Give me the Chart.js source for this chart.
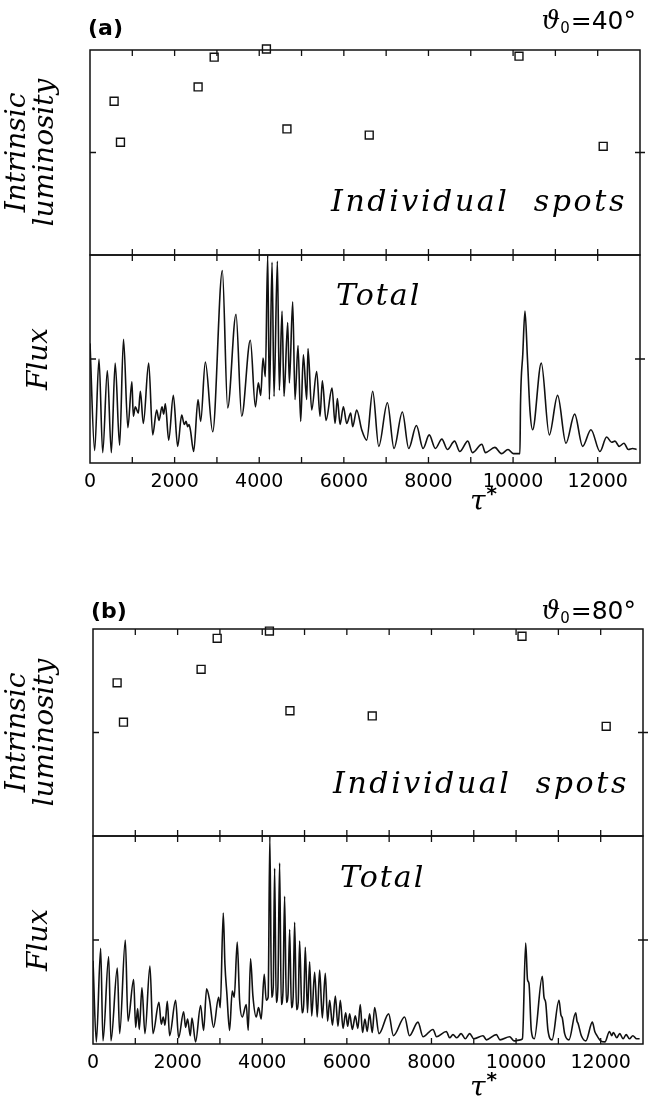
<!DOCTYPE html>
<html>
<head>
<meta charset="utf-8">
<script src="https://cdn.jsdelivr.net/npm/chart.js@4.4.1/dist/chart.umd.min.js"></script>
<style>
html, body { margin: 0; padding: 0; background: #fff; }
#page { position: relative; width: 658px; height: 1100px; overflow: hidden; }
canvas { position: absolute; left: 0; }
</style>
</head>
<body>
<div id="page">
  <canvas id="a1" width="658" height="262" style="top:0px"></canvas>
  <canvas id="a2" width="658" height="300" style="top:250px"></canvas>
  <canvas id="b1" width="658" height="283" style="top:560px"></canvas>
  <canvas id="b2" width="658" height="269" style="top:831px"></canvas>
</div>
<script>
// tick labels of the tau* axis
const tauLabels = [0, 2000, 4000, 6000, 8000, 10000, 12000];

// individual spots: time of appearance and intrinsic luminosity
const spotTau  = [570, 720, 2555, 2935, 4170, 4655, 6600, 10140, 12130];
const spotLumA = [1.50, 1.10, 1.64, 1.93, 2.01, 1.23, 1.17, 1.94, 1.06];
const spotLumB = [1.48, 1.10, 1.61, 1.91, 1.98, 1.21, 1.16, 1.93, 1.06];

// total flux, theta0 = 40 deg
const fluxTauA = [
  0, 110, 213, 300, 410, 504, 595, 700, 792, 895, 990, 1024, 1072, 1143, 1190, 1261,
  1387, 1482, 1576, 1631, 1702, 1741, 1781, 1860, 1970, 2072, 2167, 2230, 2270, 2309,
  2340, 2372, 2451, 2553, 2616, 2726, 2900, 3128, 3254, 3451, 3585, 3790, 3909, 3979,
  4035, 4090, 4145, 4200, 4240, 4303, 4350, 4429, 4476, 4539, 4586, 4673, 4712, 4791,
  4846, 4917, 4980, 5043, 5122, 5153, 5240, 5358, 5437, 5492, 5579, 5721, 5792, 5847,
  5910, 5989, 6068, 6162, 6209, 6303, 6422, 6540, 6682, 6825, 7029, 7186, 7383, 7533,
  7715, 7872, 8018, 8164, 8317, 8448, 8617, 8739, 8930, 9039, 9262, 9346, 9570, 9725,
  9880, 10005, 10162, 10175, 10230, 10281, 10340, 10400, 10462, 10667, 10856, 11053,
  11250, 11455, 11644, 11841, 12054, 12211, 12329, 12408, 12510, 12621, 12723, 12826, 12920
];
const fluxA = [
  1.15, 0.12, 1.00, 0.10, 0.89, 0.10, 0.96, 0.17, 1.19, 0.34, 0.78, 0.45, 0.54, 0.48, 0.69, 0.38,
  0.96, 0.27, 0.51, 0.41, 0.54, 0.47, 0.57, 0.22, 0.65, 0.16, 0.46, 0.37, 0.40, 0.35,
  0.37, 0.32, 0.11, 0.61, 0.40, 0.97, 0.30, 1.85, 0.53, 1.43, 0.45, 1.18, 0.54, 0.77,
  0.65, 1.01, 0.83, 2.00, 0.61, 1.93, 0.64, 1.94, 0.70, 1.46, 0.64, 1.35, 0.77, 1.55,
  0.61, 1.13, 0.40, 1.04, 0.61, 1.10, 0.51, 0.88, 0.45, 0.79, 0.41, 0.72, 0.38, 0.62,
  0.37, 0.54, 0.38, 0.48, 0.35, 0.51, 0.32, 0.22, 0.69, 0.16, 0.58, 0.14, 0.49, 0.14,
  0.36, 0.14, 0.27, 0.14, 0.23, 0.13, 0.21, 0.11, 0.21, 0.10, 0.18, 0.10, 0.15, 0.09,
  0.13, 0.09, 0.09, 0.55, 1.05, 1.46, 1.00, 0.50, 0.32, 0.96, 0.27, 0.65,
  0.19, 0.47, 0.16, 0.32, 0.11, 0.25, 0.20, 0.21, 0.16, 0.19, 0.13, 0.14, 0.13
];

// total flux, theta0 = 80 deg
const fluxTauB = [
  0, 79, 181, 236, 370, 425, 575, 630, 764, 827, 961, 1008, 1055, 1094, 1157, 1228,
  1346, 1417, 1559, 1614, 1661, 1701, 1756, 1811, 1953, 2024, 2142, 2189, 2236, 2299,
  2339, 2425, 2543, 2614, 2685, 2756, 2850, 2969, 3008, 3079, 3118, 3165, 3228, 3291,
  3339, 3409, 3465, 3528, 3622, 3669, 3724, 3780, 3858, 3913, 3976, 4047, 4094, 4140,
  4180, 4220, 4260, 4293, 4330, 4370, 4411, 4450, 4490, 4529, 4570, 4610, 4648, 4690,
  4730, 4766, 4810, 4850, 4884, 4940, 4980, 5018, 5070, 5120, 5170, 5239, 5300, 5357,
  5420, 5491, 5545, 5594, 5660, 5728, 5790, 5846, 5910, 5972, 6020, 6066, 6130, 6200,
  6260, 6318, 6370, 6428, 6480, 6538, 6600, 6657, 6760, 6988, 7100, 7366, 7480, 7681,
  7800, 8036, 8120, 8351, 8430, 8509, 8600, 8700, 8800, 8903, 9000, 9218, 9300, 9533,
  9620, 9848, 9950, 10100, 10150, 10227, 10270, 10305, 10360, 10430, 10620, 10660, 10699,
  10754, 10850, 11014, 11060, 11093, 11148, 11250, 11409, 11440, 11464, 11543, 11650,
  11803, 11860, 11897, 12000, 12100, 12208, 12260, 12300, 12380, 12450, 12530, 12600,
  12680, 12760, 12850, 12920
];
const fluxB = [
  0.80, 0.02, 0.92, 0.03, 0.84, 0.03, 0.73, 0.10, 1.00, 0.22, 0.62, 0.16, 0.34, 0.14, 0.54, 0.10,
  0.75, 0.10, 0.40, 0.19, 0.26, 0.18, 0.41, 0.08, 0.42, 0.06, 0.31, 0.16, 0.24, 0.08,
  0.25, 0.02, 0.37, 0.13, 0.53, 0.42, 0.16, 0.45, 0.35, 1.26, 0.77, 0.48, 0.13, 0.51,
  0.45, 0.98, 0.42, 0.26, 0.38, 0.13, 0.82, 0.46, 0.26, 0.35, 0.24, 0.67, 0.42, 0.45,
  2.00, 0.45, 0.55, 1.69, 0.40, 0.55, 1.74, 0.38, 0.50, 1.42, 0.40, 0.48, 1.10, 0.35,
  0.45, 1.17, 0.33, 0.40, 0.99, 0.30, 0.38, 0.93, 0.30, 0.79, 0.27, 0.69, 0.26, 0.71,
  0.25, 0.68, 0.22, 0.42, 0.18, 0.46, 0.17, 0.42, 0.15, 0.30, 0.17, 0.29, 0.14, 0.27,
  0.15, 0.38, 0.11, 0.24, 0.12, 0.29, 0.11, 0.35, 0.10, 0.29, 0.08, 0.26, 0.08, 0.21,
  0.07, 0.14, 0.07, 0.12, 0.06, 0.09, 0.06, 0.10, 0.05, 0.10, 0.05, 0.08, 0.04, 0.09,
  0.04, 0.07, 0.03, 0.04, 0.05, 0.97, 0.62, 0.58, 0.13, 0.05, 0.65, 0.45, 0.40,
  0.13, 0.04, 0.42, 0.28, 0.25, 0.10, 0.04, 0.30, 0.22, 0.20, 0.08, 0.03,
  0.21, 0.12, 0.09, 0.03, 0.02, 0.12, 0.08, 0.11, 0.06, 0.10, 0.05, 0.09,
  0.05, 0.08, 0.05, 0.05
];

Chart.defaults.font.family = 'DejaVu Sans';
Chart.defaults.color = '#000';

const serifIt = "italic 30px 'DejaVu Serif'";

// box round the plot area, with inward ticks every 1000 and a tick at 1 on both sides
const framePlugin = {
  id: 'frame',
  afterDatasetsDraw(chart) {
    const { ctx, chartArea: a, scales: { x, y } } = chart;
    ctx.save();
    ctx.strokeStyle = '#111';
    ctx.lineWidth = 1.5;
    ctx.strokeRect(a.left, a.top, a.right - a.left, a.bottom - a.top);
    ctx.lineWidth = 1.3;
    ctx.beginPath();
    for (let t = 1000; t < 13000; t += 1000) {
      const px = x.getPixelForValue(t);
      ctx.moveTo(px, a.top); ctx.lineTo(px, a.top + 6);
      ctx.moveTo(px, a.bottom); ctx.lineTo(px, a.bottom - 6);
    }
    const py = y.getPixelForValue(1);
    ctx.moveTo(a.left, py); ctx.lineTo(a.left + 6, py);
    ctx.moveTo(a.right - 5, py); ctx.lineTo(a.right + 5, py);
    ctx.stroke();
    ctx.restore();
  }
};

// free text drawn on the canvas (page coordinates, shifted by the canvas top)
const notesPlugin = {
  id: 'notes',
  afterDraw(chart, args, opts) {
    const ctx = chart.ctx;
    const dy = opts.top || 0;
    (opts.items || []).forEach(it => {
      ctx.save();
      ctx.fillStyle = '#000';
      ctx.textBaseline = 'alphabetic';
      if (it.theta) {
        // theta_0 = NN deg, right aligned at it.x
        const rest = '=' + it.theta + '°';
        ctx.font = "25px 'DejaVu Sans'";
        const wRest = ctx.measureText(rest).width;
        ctx.font = "15px 'DejaVu Sans'";
        const wSub = ctx.measureText('0').width;
        ctx.font = "italic 26px 'DejaVu Serif'";
        const wTh = ctx.measureText('ϑ').width;
        let x0 = it.x - wRest - wSub - wTh - 1;
        ctx.fillText('ϑ', x0, it.y - dy);
        ctx.font = "15px 'DejaVu Sans'";
        ctx.fillText('0', x0 + wTh, it.y - dy + 4);
        ctx.font = "25px 'DejaVu Sans'";
        ctx.fillText(rest, x0 + wTh + wSub + 1, it.y - dy);
      } else if (it.tau) {
        ctx.font = "italic 28px 'DejaVu Serif'";
        ctx.fillText('τ', it.x, it.y - dy);
        const w = ctx.measureText('τ').width;
        ctx.font = "bold 20px 'DejaVu Sans'";
        ctx.fillText('*', it.x + w + 1, it.y - dy - 10);
      } else {
        ctx.font = it.font;
        ctx.textAlign = it.align || 'left';
        if ('letterSpacing' in ctx) ctx.letterSpacing = (it.spacing || 0) + 'px';
        ctx.fillText(it.text, it.x, it.y - dy);
      }
      ctx.restore();
    });
  }
};

function yAxis(width, title, titlePad) {
  return {
    min: 0, max: 2,
    afterFit(s) { s.width = width; },
    grid: { display: false, drawTicks: false },
    border: { display: false },
    ticks: { display: false },
    title: {
      display: true, text: title, color: '#000',
      font: { family: 'DejaVu Serif', style: 'italic', size: 28, lineHeight: 1.0 },
      padding: { top: titlePad, bottom: 0 }
    }
  };
}

function xAxis(show, height) {
  return {
    type: 'linear', min: 0, max: 13000,
    display: show,
    afterFit(s) { if (show) s.height = height; },
    afterBuildTicks(s) { s.ticks = tauLabels.map(v => ({ value: v })); },
    grid: { display: false, drawTicks: false },
    border: { display: false },
    ticks: {
      font: { size: 19 }, color: '#000', padding: 8, maxRotation: 0, autoSkip: false,
      callback: v => String(v)
    }
  };
}

function spotsChart(id, lum, pad, yWidth, notes) {
  return new Chart(document.getElementById(id), {
    type: 'scatter',
    data: {
      datasets: [{
        data: spotTau.map((t, i) => ({ x: t, y: lum[i] })),
        pointStyle: 'rect', pointRadius: 5.6,
        borderColor: '#111', borderWidth: 1.4,
        backgroundColor: 'rgba(255,255,255,0)',
        clip: false
      }]
    },
    options: {
      responsive: false, animation: false, devicePixelRatio: 1,
      layout: { padding: pad },
      scales: { x: xAxis(false, 0), y: yAxis(yWidth, ['Intrinsic', 'luminosity'], 4) },
      plugins: { legend: { display: false }, tooltip: { enabled: false }, notes: notes }
    },
    plugins: [framePlugin, notesPlugin]
  });
}

function fluxChart(id, taus, vals, pad, yWidth, xHeight, notes) {
  return new Chart(document.getElementById(id), {
    type: 'line',
    data: {
      datasets: [{
        data: taus.map((t, i) => ({ x: t, y: vals[i] })),
        borderColor: '#111', borderWidth: 1.6,
        pointRadius: 0,
        cubicInterpolationMode: 'monotone'
      }]
    },
    options: {
      responsive: false, animation: false, devicePixelRatio: 1,
      layout: { padding: pad },
      scales: { x: xAxis(true, xHeight), y: yAxis(yWidth, 'Flux', 26) },
      plugins: { legend: { display: false }, tooltip: { enabled: false }, notes: notes }
    },
    plugins: [framePlugin, notesPlugin]
  });
}

// panel (a)
spotsChart('a1', spotLumA, { top: 50, right: 18, bottom: 7, left: 0 }, 90, {
  top: 0,
  items: [
    { text: '(a)', x: 88, y: 35, font: "bold 22px 'DejaVu Sans'" },
    { theta: 40, x: 636, y: 29 },
    { text: 'Individual  spots', x: 331, y: 211, font: serifIt, spacing: 2.6 }
  ]
});
fluxChart('a2', fluxTauA, fluxA, { top: 5, right: 18, bottom: 0, left: 0 }, 90, 87, {
  top: 250,
  items: [
    { text: 'Total', x: 336, y: 305, font: serifIt, spacing: 2 },
    { tau: true, x: 470, y: 510 }
  ]
});

// panel (b)
spotsChart('b1', spotLumB, { top: 69, right: 15, bottom: 7, left: 0 }, 93, {
  top: 560,
  items: [
    { text: '(b)', x: 91, y: 618, font: "bold 22px 'DejaVu Sans'" },
    { theta: 80, x: 636, y: 619 },
    { text: 'Individual  spots', x: 333, y: 793, font: serifIt, spacing: 2.6 }
  ]
});
fluxChart('b2', fluxTauB, fluxB, { top: 5, right: 15, bottom: 0, left: 0 }, 93, 56, {
  top: 831,
  items: [
    { text: 'Total', x: 340, y: 887, font: serifIt, spacing: 2 },
    { tau: true, x: 470, y: 1096 }
  ]
});
</script>
</body>
</html>
